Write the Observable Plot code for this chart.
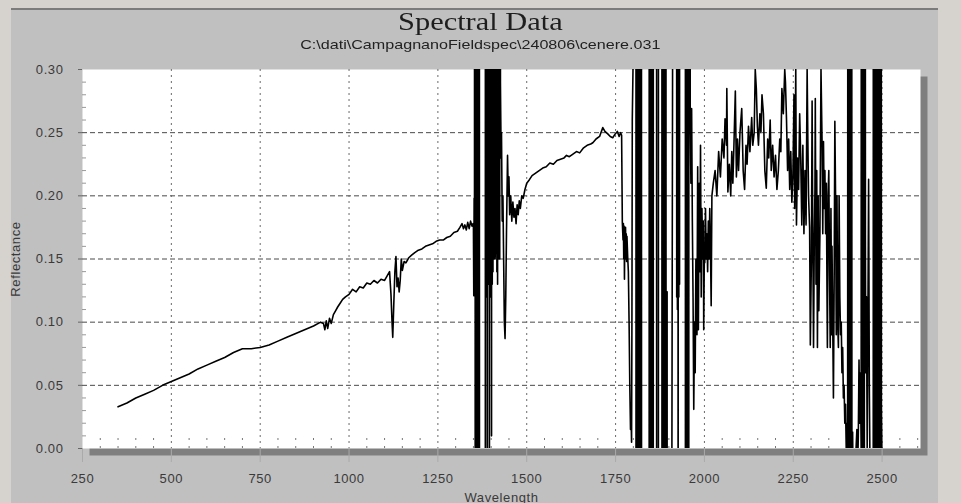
<!DOCTYPE html>
<html><head><meta charset="utf-8">
<script src="https://cdn.jsdelivr.net/npm/d3@7"></script>
<script src="https://cdn.jsdelivr.net/npm/@observablehq/plot@0.6"></script>
<style>
html,body{margin:0;padding:0;}
body{width:961px;height:503px;overflow:hidden;position:relative;background:#d6d3ce;}
#panel{position:absolute;left:11px;top:8px;width:927px;height:495px;background:#c0c0c0;border-top:2px solid #7c7c7c;}
#title{position:absolute;left:0;width:961px;top:7px;text-align:center;font-family:"Liberation Serif",serif;font-size:26px;line-height:30px;color:#1e1e1e;}
#title span{display:inline-block;transform:scaleX(1.17);}
#subtitle span{display:inline-block;transform:scaleX(1.24);}
#subtitle{position:absolute;left:0;width:961px;top:37px;text-align:center;font-family:"Liberation Sans",sans-serif;font-size:13px;line-height:15px;color:#222;}
#chart{position:absolute;left:0;top:0;}
#leftstrip{position:absolute;left:0;top:0;width:8px;height:503px;background:#d6d3ce;}
svg text{letter-spacing:0.6px;}
</style>
</head><body>
<div id="panel"></div>
<div id="title"><span>Spectral Data</span></div>
<div id="subtitle"><span>C:\dati\CampagnanoFieldspec\240806\cenere.031</span></div>
<div id="chart"></div>
<div id="leftstrip"></div>
<script>
// tick values
const xTicks = [250, 500, 750, 1000, 1250, 1500, 1750, 2000, 2250, 2500];
const yTicks = [0, 0.05, 0.10, 0.15, 0.20, 0.25, 0.30];
const xMinor = [300,350,400,450,550,600,650,700,800,850,900,950,1050,1100,1150,1200,1300,1350,1400,1450,1550,1600,1650,1700,1800,1850,1900,1950,2050,2100,2150,2200,2300,2350,2400,2450,2550,2600];
const yMinor = [0.01,0.02,0.03,0.04,0.06,0.07,0.08,0.09,0.11,0.12,0.13,0.14,0.16,0.17,0.18,0.19,0.21,0.22,0.23,0.24,0.26,0.27,0.28,0.29];

// spectrum segments: [wavelength nm, reflectance]
const visNir = [[350,0.033],[375,0.036],[400,0.040],[425,0.043],[450,0.046],[475,0.050],[500,0.053],[525,0.056],[550,0.059],[575,0.063],[600,0.066],[625,0.069],[650,0.072],[675,0.076],[700,0.079],[725,0.079],[750,0.080],[775,0.082],[800,0.085],[825,0.088],[850,0.091],[875,0.094],[900,0.097],[920,0.100],[928,0.099],[932,0.094],[936,0.101],[940,0.095],[945,0.103],[950,0.099],[956,0.106],[962,0.109],[968,0.112],[975,0.115],[982,0.118],[990,0.120],[1000,0.122],[1010,0.126],[1020,0.124],[1030,0.128],[1040,0.127],[1050,0.131],[1060,0.130],[1070,0.133],[1080,0.131],[1090,0.134],[1100,0.133],[1108,0.137],[1114,0.140],[1118,0.122],[1121,0.100],[1123,0.088],[1126,0.115],[1129,0.140],[1132,0.152],[1135,0.128],[1138,0.135],[1141,0.124],[1144,0.133],[1147,0.150],[1150,0.141],[1155,0.148],[1160,0.147],[1168,0.151],[1176,0.153],[1185,0.155],[1195,0.157],[1205,0.158],[1215,0.160],[1225,0.161],[1235,0.162],[1245,0.164],[1255,0.165],[1265,0.165],[1275,0.167],[1285,0.168],[1295,0.171],[1305,0.172],[1312,0.175],[1318,0.178],[1322,0.174],[1326,0.177],[1330,0.173],[1334,0.179],[1338,0.174],[1342,0.180],[1346,0.176],[1349,0.178]];
const waterBand1 = [[1350,0.176],[1351,0.121],[1352,0.198],[1353,0.170],[1354,2],[1356,-2],[1358,2],[1360,-2],[1362,2],[1364,-2],[1366,2],[1368,-2],[1383,-2],[1384,2],[1385,0.14],[1386,2],[1387,0.12],[1388,2],[1389,-0.3],[1390,2],[1391,0.13],[1392,2],[1393,0.15],[1394,2],[1395,-0.2],[1396,2],[1397,0.14],[1398,2],[1399,0.12],[1400,2],[1401,0.01],[1402,2],[1403,0.13],[1404,2],[1405,0.14],[1406,2],[1407,0.15],[1408,2],[1409,0.16],[1411,0.15],[1413,0.17],[1415,2],[1416,0.14],[1417,2],[1418,0.13],[1419,2],[1420,0.15],[1421,2],[1422,0.16],[1423,2],[1424,0.15],[1425,2],[1426,0.29],[1427,0.26],[1428,0.23],[1429,0.25],[1431,0.18],[1433,0.20],[1435,0.15],[1437,0.10],[1439,0.087],[1441,0.12],[1443,0.17]];
const swir1 = [[1446,0.232],[1448,0.200],[1450,0.215],[1452,0.185],[1455,0.200],[1458,0.180],[1461,0.195],[1464,0.183],[1467,0.190],[1470,0.178],[1473,0.193],[1476,0.185],[1479,0.196],[1482,0.190],[1486,0.200],[1490,0.198],[1495,0.205],[1500,0.210],[1508,0.213],[1515,0.216],[1525,0.218],[1535,0.220],[1545,0.222],[1555,0.223],[1565,0.226],[1575,0.225],[1585,0.228],[1595,0.229],[1605,0.230],[1612,0.232],[1620,0.231],[1630,0.233],[1640,0.235],[1649,0.234],[1660,0.238],[1670,0.240],[1680,0.241],[1686,0.242],[1695,0.245],[1705,0.247],[1714,0.254],[1720,0.251],[1728,0.249],[1735,0.247],[1742,0.246],[1749,0.249],[1755,0.251],[1760,0.247],[1764,0.250],[1767,0.248]];
const waterBand2 = [[1769,0.179],[1771,0.165],[1772,0.178],[1773,0.150],[1774,0.176],[1775,0.134],[1776,0.170],[1777,0.150],[1778,0.175],[1779,0.155],[1780,0.170],[1781,0.148],[1782,0.168],[1784,0.152],[1786,0.140],[1788,0.100],[1790,0.050],[1792,0.015],[1794,0.020],[1795,0.005],[1796,0.100],[1797,0.260],[1799,0.300],[1801,2],[1807,2],[1808,-2],[1810,2],[1812,-2],[1814,2],[1816,-2],[1818,2],[1820,-2],[1822,2],[1824,-2],[1844,-2],[1845,2],[1847,-2],[1849,2],[1851,-2],[1853,2],[1855,-2],[1857,2],[1865,2],[1866,-2],[1870,-2],[1871,2],[1880,2],[1881,-2],[1883,2],[1885,-2],[1887,2],[1889,-2],[1891,2],[1893,-2],[1894,0.124],[1895,0.124],[1896,-2],[1921,2],[1922,0.12],[1923,2],[1924,0.11],[1925,2],[1926,-0.3],[1927,2],[1928,0.12],[1929,2],[1930,0.13],[1931,2],[1946,2],[1947,-2],[1949,2],[1951,-2],[1953,2],[1955,-2],[1957,2],[1960,0.270],[1962,0.210],[1964,0.269],[1966,0.180],[1968,0.120],[1970,0.031],[1972,0.100],[1974,0.060],[1976,0.150],[1979,0.090],[1981,0.223],[1983,0.094],[1985,0.210],[1987,0.140],[1989,0.240],[1991,0.120],[1993,0.190],[1995,0.150],[1997,0.180],[1998,0.094],[2000,0.160],[2001,0.147],[2003,0.190],[2005,0.150],[2007,0.170],[2009,0.140],[2011,0.180],[2013,0.150],[2015,0.190],[2017,0.160],[2019,0.113],[2021,0.200],[2025,0.210],[2030,0.220],[2035,0.200],[2040,0.235],[2045,0.215],[2050,0.245],[2055,0.230]];
const swir2 = [[2058,0.261],[2062,0.240],[2063,0.285],[2066,0.203],[2070,0.225],[2074,0.200],[2077,0.235],[2080,0.210],[2083,0.240],[2087,0.283],[2090,0.215],[2093,0.245],[2096,0.220],[2100,0.250],[2105,0.269],[2109,0.220],[2113,0.205],[2117,0.240],[2120,0.225],[2124,0.255],[2128,0.235],[2133,0.262],[2136,0.240],[2140,0.250],[2143,0.300],[2146,0.285],[2149,0.255],[2152,0.240],[2156,0.265],[2159,0.250],[2162,0.280],[2166,0.265],[2170,0.220],[2174,0.206],[2178,0.245],[2181,0.230],[2185,0.260],[2188,0.220],[2192,0.240],[2196,0.215],[2200,0.232],[2204,0.205],[2208,0.220],[2212,0.245],[2215,0.235],[2218,0.285],[2222,0.265],[2226,0.300],[2228,0.290],[2231,0.260],[2234,0.220],[2237,0.245],[2240,0.205],[2243,0.235],[2246,0.195],[2249,0.215],[2252,0.280],[2254,0.190],[2257,0.300],[2259,0.177],[2262,0.230],[2265,0.205],[2268,0.265],[2271,0.230],[2274,0.177],[2277,0.240],[2280,0.170],[2283,0.220],[2286,0.177],[2289,0.300],[2291,0.245],[2293,0.200],[2296,0.175],[2298,0.082],[2301,0.150],[2303,0.275],[2305,0.165],[2307,0.080],[2309,0.160],[2311,0.205]];
const waterBand3 = [[2312,0.277],[2314,0.130],[2316,0.220],[2318,0.080],[2320,0.200],[2322,0.109],[2325,0.170],[2328,0.300],[2331,0.243],[2333,0.170],[2335,0.243],[2337,0.190],[2339,0.220],[2341,0.170],[2343,0.210],[2345,0.120],[2346,0.080],[2348,0.200],[2350,0.220],[2352,0.140],[2354,0.080],[2356,0.190],[2358,0.090],[2359,0.160],[2361,0.100],[2363,0.040],[2365,0.130],[2367,0.259],[2369,0.200],[2371,0.090],[2373,0.200],[2375,0.100],[2377,0.080],[2379,0.200],[2381,0.120],[2383,0.090],[2385,0.100],[2387,0.060],[2389,0.080],[2391,0.040],[2393,0.050],[2395,0.020],[2397,0.035],[2399,0.000],[2401,0.020],[2403,-0.010],[2405,2],[2407,-2],[2409,2],[2411,-2],[2413,2],[2415,-0.020],[2417,0.013],[2419,-0.050],[2429,0.015],[2431,-0.020],[2433,0.010],[2435,0.070],[2437,0.020],[2439,0.060],[2441,0.000],[2443,2],[2445,-2],[2447,2],[2449,-2],[2451,2],[2453,0.164],[2454,0.060],[2456,0.120],[2458,0.000],[2460,0.100],[2462,0.213],[2464,0.050],[2466,-0.020],[2474,-2],[2476,2],[2478,-2],[2480,2],[2482,-2],[2484,2],[2486,-2],[2488,2],[2490,-2],[2492,2],[2494,-2],[2496,2],[2498,0.034],[2500,-0.020]];

const spectrum = [...visNir, ...waterBand1, ...swir1, ...waterBand2, ...swir2, ...waterBand3]
  .map(([nm, r]) => ({nm, r}));

const chart = Plot.plot({
  width: 961, height: 503,
  marginLeft: 82, marginRight: 41, marginTop: 69, marginBottom: 55,
  style: {background: "transparent", fontFamily: "'Liberation Sans', Arial, sans-serif", fontSize: "13px", color: "#3a3a3a", overflow: "hidden"},
  x: {domain: [250, 2608]},
  y: {domain: [0, 0.30]},
  marks: [
    Plot.frame({fill: "white", stroke: null}),
    Plot.gridY(yTicks.filter(d => d > 0 && d < 0.3), {stroke: "#4a4a4a", strokeOpacity: 1, strokeDasharray: "5,3"}),
    Plot.gridX(xTicks.filter(d => d > 250), {stroke: "#6a6a6a", strokeOpacity: 1, strokeDasharray: "2,4"}),
    Plot.axisX(xMinor, {tickSize: -10, fill: "none", label: null, stroke: "#777", strokeDasharray: "2,6"}),
    Plot.axisY(yMinor, {tickSize: -4, fill: "none", label: null, stroke: "#999"}),
    Plot.line(spectrum, {x: "nm", y: "r", stroke: "black", strokeWidth: 1.6, clip: true}),
    Plot.axisY(yTicks, {tickFormat: d3.format(".2f"), tickSize: 4, tickPadding: 15, stroke: "#666", label: "Reflectance", labelAnchor: "center", labelArrow: "none", labelOffset: 72}),
    Plot.axisX(xTicks, {tickFormat: d3.format("d"), tickSize: 14, tickPadding: 11, stroke: "#aaa", label: "Wavelength", labelAnchor: "center", labelArrow: "none", labelOffset: 53})
  ]
});
const frameG = chart.querySelector('[aria-label="frame"]');
if (frameG) frameG.setAttribute("style", "filter: drop-shadow(7px 7px 0 #7f7f7f)");
document.getElementById("chart").appendChild(chart);
</script>
</body></html>
